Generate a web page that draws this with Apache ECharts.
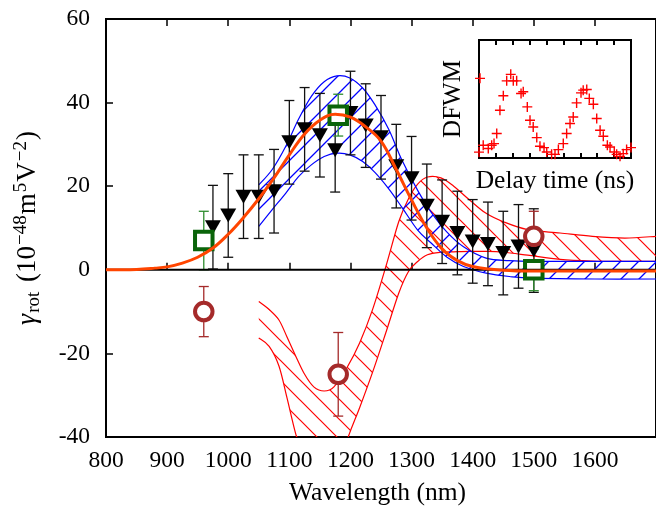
<!DOCTYPE html>
<html><head><meta charset="utf-8">
<script src="https://cdn.jsdelivr.net/npm/echarts@6/dist/echarts.min.js"></script>
<style>html,body{margin:0;padding:0;background:#fff}#c{width:656px;height:511px}</style>
</head><body><div id="c"></div>
<script>
// ---------- data ----------
const xTicks = [800, 900, 1000, 1100, 1200, 1300, 1400, 1500, 1600, 1700];
const yTicks = [-40, -20, 0, 20, 40, 60];

const triWl  = [975,1000,1025,1050,1075,1100,1125,1150,1175,1200,1225,1250,1275,1300,1325,1350,1375,1400,1425,1450,1475,1500];
const triVal = [10.2,13,17.5,17.5,18.8,30.5,33.6,32.2,28.6,37.5,34.5,31.7,24.8,21.9,15.3,11.5,8.8,6.8,6.2,4,5.6,4.6];
const triErr = [10,10,10,10,10,10,10,10,10,10,10,10,10,10,10,10,10,10,10,10,10,10];

const sqWl  = [960, 1180, 1500];
const sqVal = [7, 37, 0];
const sqErr = [7, 5, 5];

const ciWl  = [960, 1180, 1500];
const ciVal = [-10, -25, 8];
const ciErr = [6, 10, 6];

const fitWl  = [800,850,880,900,925,950,975,1000,1025,1050,1075,1100,1125,1150,1175,1200,1225,1250,1275,1300,1325,1350,1375,1400,1450,1500,1600,1700];
const fitVal = [0,0.1,0.4,0.7,1.6,3,5.2,8.5,12.5,17,22,27.5,32.5,35.8,37.2,36.5,34.2,30.8,24,16.7,10,5,2.2,0.8,-0.1,-0.3,-0.3,-0.3];

const blueWl = [1050,1072,1094,1115,1136,1157,1178,1199,1220,1240,1263,1284,1310,1332,1358,1385,1422,1460,1500,1600,1700];
const blueHi = [20.3,24,29.5,36,41.5,45,46.4,45.9,43.5,39.5,33.5,26.3,19,13.8,9,5.5,2.8,2.2,2,2,2];
const blueLo = [10.4,14.4,18.3,22.3,25.1,27.1,27.9,27.5,25.9,23.3,19.3,15,9.5,6.4,3,0.8,-0.8,-1.6,-2,-2.2,-2.2];

const redWl = [1050,1067,1083,1096,1110,1125,1140,1157,1173,1194,1215,1236,1258,1279,1295,1310,1326,1348,1369,1395,1422,1450,1490,1543,1596,1649,1700];
const redHi = [-7.6,-9.5,-12,-16,-20.5,-25,-28,-29,-28,-23.5,-17.5,-9.6,0.8,11.5,17,20.5,22.2,22,20,16.7,13.5,11.5,9.6,8.8,8,7.6,8];
const redLo = [-16.3,-18.3,-23,-30.5,-39,-46,-51,-53,-52,-41,-33,-24.6,-15,-5.6,-0.4,2,3.6,4.2,4.3,4.4,4.4,4.2,3.5,2.5,2.1,2,2];

const dfwmT = [0.06,0,0.25,0.55,0.75,0.89,1.05,1.24,1.44,1.64,1.88,2.03,2.23,2.49,2.62,2.86,3.02,3.21,3.42,3.61,3.85,4.01,4.3,4.5,4.7,4.99,5.19,5.39,5.58,5.78,6.04,6.17,6.38,6.53,6.77,6.97,7.17,7.36,7.6,7.76,8.01,8.15,8.35,8.54,8.74,9.0];
const dfwmI = [0.675,0.05,0.108,0.08,0.108,0.122,0.207,0.405,0.527,0.654,0.709,0.654,0.654,0.547,0.561,0.433,0.32,0.263,0.173,0.099,0.088,0.051,0.031,0.031,0.071,0.122,0.207,0.292,0.348,0.467,0.552,0.575,0.581,0.505,0.456,0.335,0.235,0.184,0.108,0.093,0.051,0.031,0.014,0.037,0.071,0.088];

// ---------- helpers ----------
const FONT = 'Liberation Serif';
function hatch(color, size, dir, lw) {
  const c = document.createElement('canvas');
  c.width = size; c.height = size;
  const g = c.getContext('2d');
  g.strokeStyle = color; g.lineWidth = lw;
  g.beginPath();
  if (dir === '/') {
    g.moveTo(-2, size + 2); g.lineTo(size + 2, -2);
    g.moveTo(-2, 2); g.lineTo(2, -2);
    g.moveTo(size - 2, size + 2); g.lineTo(size + 2, size - 2);
  } else {
    g.moveTo(-2, -2); g.lineTo(size + 2, size + 2);
    g.moveTo(size - 2, -2); g.lineTo(size + 2, 2);
    g.moveTo(-2, size - 2); g.lineTo(2, size + 2);
  }
  g.stroke();
  return { image: c, repeat: 'repeat' };
}
function crPath(pts, start) {
  let d = (start ? 'M' : 'L') + pts[0][0] + ',' + pts[0][1];
  for (let i = 0; i < pts.length - 1; i++) {
    const p0 = pts[i - 1] || pts[i], p1 = pts[i], p2 = pts[i + 1], p3 = pts[i + 2] || pts[i + 1];
    const c1 = [p1[0] + (p2[0] - p0[0]) / 6, p1[1] + (p2[1] - p0[1]) / 6];
    const c2 = [p2[0] - (p3[0] - p1[0]) / 6, p2[1] - (p3[1] - p1[1]) / 6];
    d += 'C' + c1[0] + ',' + c1[1] + ',' + c2[0] + ',' + c2[1] + ',' + p2[0] + ',' + p2[1];
  }
  return d;
}
function band(xs, lo, hi, color, pattern) {
  return {
    type: 'custom', clip: true, silent: true, xAxisIndex: 0, yAxisIndex: 0,
    data: [[xs[0], lo[0]]], encode: { x: 0, y: 1 },
    renderItem: function (params, api) {
      const up = xs.map((x, i) => api.coord([x, hi[i]]));
      const dn = xs.map((x, i) => api.coord([x, lo[i]]));
      const fill = crPath(up, true) + crPath(dn.slice().reverse(), false) + 'Z';
      const ln = { fill: 'none', stroke: color, lineWidth: 1.2 };
      return { type: 'group', children: [
        { type: 'path', shape: { pathData: fill }, style: { fill: pattern, stroke: 'none' } },
        { type: 'path', shape: { pathData: crPath(up, true) }, style: ln },
        { type: 'path', shape: { pathData: crPath(dn, true) }, style: ln }
      ]};
    }
  };
}
function errBars(xs, ys, es, color, lw, cap) {
  return {
    type: 'custom', silent: true, xAxisIndex: 0, yAxisIndex: 0,
    data: xs.map((x, i) => [x, ys[i], es[i]]), encode: { x: 0, y: 1 },
    renderItem: function (params, api) {
      const x = api.value(0), y = api.value(1), e = api.value(2);
      const t = api.coord([x, y + e]), b = api.coord([x, y - e]);
      const st = { stroke: color, lineWidth: lw, fill: 'none' };
      return { type: 'group', children: [
        { type: 'line', shape: { x1: t[0], y1: t[1], x2: b[0], y2: b[1] }, style: st },
        { type: 'line', shape: { x1: t[0] - cap, y1: t[1], x2: t[0] + cap, y2: t[1] }, style: st },
        { type: 'line', shape: { x1: b[0] - cap, y1: b[1], x2: b[0] + cap, y2: b[1] }, style: st }
      ]};
    }
  };
}
const pair = (xs, ys) => xs.map((x, i) => [x, ys[i]]);

// ---------- chart ----------
const chart = echarts.init(document.getElementById('c'), null, { renderer: 'canvas' });
const tickStyle = { show: true, inside: true, length: 7, lineStyle: { color: '#000', width: 1.5 } };
const labelStyle = { color: '#000', fontFamily: FONT, fontSize: 23.5, formatter: v => String(v) };

chart.setOption({
  animation: false,
  backgroundColor: '#fff',
  grid: [
    { left: 106, top: 19, right: -16.5, bottom: 74, show: true, borderColor: '#000', borderWidth: 2, backgroundColor: 'transparent' },
    { left: 479, top: 40, width: 152, height: 118, show: true, borderColor: '#000', borderWidth: 2, backgroundColor: '#fff' }
  ],
  xAxis: [
    { gridIndex: 0, type: 'value', min: xTicks[0], max: xTicks[xTicks.length - 1], interval: 100, position: 'bottom',
      axisLine: { show: false }, axisTick: tickStyle, splitLine: { show: false },
      axisLabel: Object.assign({ margin: 12, showMaxLabel: false }, labelStyle),
      name: 'Wavelength (nm)', nameLocation: 'middle', nameGap: 43,
      nameTextStyle: { color: '#000', fontFamily: FONT, fontSize: 25.5, padding: [0, 7, 0, 0] } },
    { gridIndex: 0, type: 'value', min: xTicks[0], max: xTicks[xTicks.length - 1], interval: 100, position: 'top',
      axisLine: { show: false }, axisTick: tickStyle, splitLine: { show: false }, axisLabel: { show: false } },
    { gridIndex: 1, type: 'value', min: 0, max: 9, interval: 1, position: 'bottom',
      axisLine: { show: false }, axisTick: { show: true, inside: true, length: 5, lineStyle: { color: '#000', width: 2 } },
      splitLine: { show: false }, axisLabel: { show: false },
      name: 'Delay time (ns)', nameLocation: 'middle', nameGap: 10,
      nameTextStyle: { color: '#000', fontFamily: FONT, fontSize: 25.5 } },
    { gridIndex: 1, type: 'value', min: 0, max: 9, interval: 1, position: 'top',
      axisLine: { show: false }, axisTick: { show: true, inside: true, length: 5, lineStyle: { color: '#000', width: 2 } },
      splitLine: { show: false }, axisLabel: { show: false } }
  ],
  yAxis: [
    { gridIndex: 0, type: 'value', min: yTicks[0], max: yTicks[yTicks.length - 1], interval: 20,
      axisLine: { show: false }, axisTick: tickStyle, splitLine: { show: false },
      axisLabel: Object.assign({ margin: 16 }, labelStyle),
      name: '{g|γ}{s|rot}{n| (10}{p|−48}{n|m}{p|5}{n|V}{p|−2}{n|)}',
      nameLocation: 'middle', nameRotate: 90, nameGap: 62,
      nameTextStyle: { color: '#000', fontFamily: FONT, fontSize: 27,
        rich: {
          g: { fontFamily: FONT, fontSize: 28, fontStyle: 'italic', color: '#000', lineHeight: 32, padding: [0, 1, 0, 0] },
          n: { fontFamily: FONT, fontSize: 27, color: '#000', lineHeight: 32 },
          s: { fontFamily: FONT, fontSize: 19, color: '#000', verticalAlign: 'bottom', lineHeight: 16, padding: [0, 3, 0, 0] },
          p: { fontFamily: FONT, fontSize: 19, color: '#000', verticalAlign: 'top', lineHeight: 18, padding: [0, 1, 0, 1] }
        } } },
    { gridIndex: 1, type: 'value', min: 0, max: 1,
      axisLine: { show: false }, axisTick: { show: false }, splitLine: { show: false }, axisLabel: { show: false },
      name: 'DFWM', nameLocation: 'middle', nameRotate: 90, nameGap: 13,
      nameTextStyle: { color: '#000', fontFamily: FONT, fontSize: 25 } }
  ],
  series: [
    band(redWl, redLo, redHi, '#ff0000', hatch('#ff0000', 20, '\\', 1.2)),
    band(blueWl, blueLo, blueHi, '#0000ff', hatch('#0000ff', 18, '/', 1.3)),
    { type: 'line', silent: true, xAxisIndex: 0, yAxisIndex: 0, symbol: 'none',
      data: [[xTicks[0], 0], [xTicks[xTicks.length - 1], 0]], lineStyle: { color: '#000', width: 2 } },
    { type: 'line', silent: true, xAxisIndex: 0, yAxisIndex: 0, symbol: 'none', smooth: 0.4,
      data: pair(fitWl, fitVal), lineStyle: { color: '#ff4500', width: 3 } },
    errBars(triWl, triVal, triErr, '#111', 1.3, 5),
    { type: 'scatter', silent: true, xAxisIndex: 0, yAxisIndex: 0, symbol: 'triangle', symbolRotate: 180,
      symbolSize: [16, 14], data: pair(triWl, triVal), itemStyle: { color: '#000', opacity: 1 } },
    errBars(sqWl, sqVal, sqErr, '#2e8b2e', 1.3, 5),
    { type: 'scatter', silent: true, xAxisIndex: 0, yAxisIndex: 0, symbol: 'rect', symbolSize: 17.5,
      data: pair(sqWl, sqVal), itemStyle: { color: '#fff', borderColor: '#0a640a', borderWidth: 4, opacity: 1 } },
    errBars(ciWl, ciVal, ciErr, '#a52a2a', 1.3, 5),
    { type: 'scatter', silent: true, xAxisIndex: 0, yAxisIndex: 0, symbol: 'circle', symbolSize: 17.5,
      data: pair(ciWl, ciVal), itemStyle: { color: '#fff', borderColor: '#a52a2a', borderWidth: 4, opacity: 1 } },
    { type: 'scatter', silent: true, xAxisIndex: 2, yAxisIndex: 1, clip: false,
      symbol: 'path://M4.3,0H5.7V4.3H10V5.7H5.7V10H4.3V5.7H0V4.3H4.3Z', symbolSize: 10,
      data: pair(dfwmT, dfwmI), itemStyle: { color: '#ff0000', opacity: 1 } }
  ]
});
</script></body></html>
